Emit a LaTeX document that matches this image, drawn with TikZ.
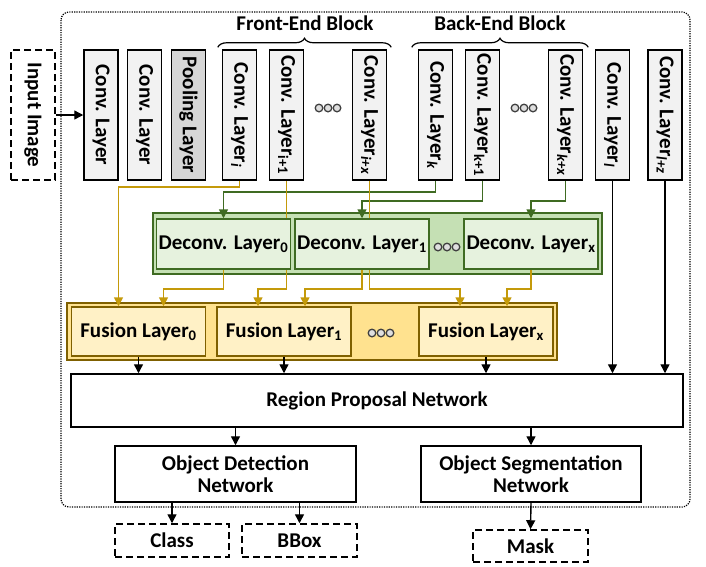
\documentclass[tikz,border=0pt]{standalone}
\usepackage{fontspec}
\setmainfont{Carlito}
\usepackage{graphicx}
\usetikzlibrary{arrows.meta,decorations.pathreplacing}
\definecolor{darkgreen}{HTML}{3F6B22}
\definecolor{bandgreen}{HTML}{C5E0B4}
\definecolor{lightgreen}{HTML}{E6F2DE}
\definecolor{darkgold}{HTML}{7F6000}
\definecolor{bandgold}{HTML}{FFE28F}
\definecolor{lightgold}{HTML}{FFF1C6}
\definecolor{linegold}{HTML}{C49A0A}
\definecolor{boxgray}{HTML}{F2F2F2}
\definecolor{poolgray}{HTML}{D6D6D6}
\newcommand{\threedots}[2]{\foreach \k in {-9,0,9} \filldraw[fill=gray!25,draw=gray!50!black,line width=1.3pt] (#1+\k,#2) circle (3.8pt);}

\begin{document}
\begin{tikzpicture}[x=1pt,y=-1pt,
    font=\fontsize{21}{22.5}\selectfont\bfseries,
    convbox/.style={draw,line width=1.5pt,fill=boxgray,minimum width=34pt,minimum height=130pt,inner sep=0pt},
    inbox/.style={draw,line width=1.5pt,dash pattern=on 7pt off 4pt,inner sep=0pt},
    deconvbox/.style={draw=darkgreen,line width=1.5pt,fill=lightgreen,minimum width=134pt,minimum height=50pt,inner sep=0pt},
    fusionbox/.style={draw=darkgold,line width=1.5pt,fill=lightgold,minimum width=134pt,minimum height=49pt,inner sep=0pt},
    netbox/.style={draw,line width=1.5pt,fill=white,align=center,inner sep=0pt},
    goldarrow/.style={draw=linegold,line width=1.5pt,-{Triangle[length=9pt,width=9pt]}},
    goldline/.style={draw=linegold,line width=1.5pt},
    greenarrow/.style={draw=darkgreen,line width=1.5pt,-{Triangle[length=9pt,width=9pt]}},
    blackarrow/.style={draw,line width=1.4pt,-{Triangle[length=9pt,width=9pt]}}]
    \useasboundingbox (0,0) rectangle (706,566);
    % outer frame
    \draw[line width=1.2pt,dash pattern=on 1.2pt off 1.2pt,rounded corners=8pt] (61,12) rectangle (690,507);

    % input and conv layers
    \node[inbox,minimum width=44pt,minimum height=130pt] (input) at (33,115) {\rotatebox{-90}{Input Image}};
    \foreach \n/\x/\t in {c1/101/{Conv. Layer},c2/144.5/{Conv. Layer},
        ci/239.5/{Conv. Layer\textsubscript{\itshape i}},ci1/286.5/{Conv. Layer\textsubscript{i+1}},
        cix/369.5/{Conv. Layer\textsubscript{\itshape i+x}},ck/435.5/{Conv. Layer\textsubscript{\itshape k}},
        ck1/482.5/{Conv. Layer\textsubscript{k+1}},ckx/565.5/{Conv. Layer\textsubscript{\itshape k+x}},
        cl/612.5/{Conv. Layer\textsubscript{\itshape l}},clz/665/{Conv. Layer\textsubscript{\itshape l+z}}}
        \node[convbox] (\n) at (\x,115) {\rotatebox{-90}{\t}};
    \node[convbox,fill=poolgray] (pool) at (188.5,115) {\rotatebox{-90}{Pooling Layer}};
    \threedots{328}{108}
    \threedots{524}{108}

    % blocks
    \draw[decorate,decoration={brace,amplitude=9pt},line width=1.2pt] ([xshift=-4pt,yshift=2pt]ci.north west) -- ([xshift=4pt,yshift=2pt]cix.north east);
    \draw[decorate,decoration={brace,amplitude=9pt},line width=1.2pt] ([xshift=-6pt,yshift=2pt]ck.north west) -- ([xshift=5pt,yshift=2pt]ckx.north east);
    \node (frontend) at (305,23) {Front-End Block};
    \node (backend) at (500,23) {Back-End Block};

    % deconv band
    \draw[draw=darkgreen,fill=bandgreen,line width=1.2pt] (153,213) rectangle (602,274);
    \node[deconvbox] (d0) at (223.5,244) {Deconv. Layer\textsubscript{0}};
    \node[deconvbox] (d1) at (362,244) {Deconv. Layer\textsubscript{1}};
    \node[deconvbox] (dx) at (531,244) {Deconv. Layer\textsubscript{x}};
    \threedots{447}{247}

    % fusion band
    \draw[draw=darkgold,fill=bandgold,line width=1.2pt] (67,303) rectangle (557,360);
    \node[fusionbox] (f0) at (138.5,331.5) {Fusion Layer\textsubscript{0}};
    \node[fusionbox] (f1) at (284,331.5) {Fusion Layer\textsubscript{1}};
    \node[fusionbox] (fx) at (486,331.5) {Fusion Layer\textsubscript{x}};
    \threedots{381}{333}

    % networks and outputs
    \node[netbox,minimum width=612pt,minimum height=53pt] (rpn) at (377,400.5) {Region Proposal Network};
    \node[netbox,minimum width=241pt,minimum height=56pt] (odn) at (235.5,474) {Object Detection\\Network};
    \node[netbox,minimum width=220pt,minimum height=56pt] (osn) at (531,474) {Object Segmentation\\Network};
    \node[inbox,minimum width=114pt,minimum height=33pt] (class) at (172,540.5) {Class};
    \node[inbox,minimum width=115pt,minimum height=33pt] (bbox) at (299.5,540.5) {BBox};
    \node[inbox,minimum width=115pt,minimum height=32pt] (mask) at (530.5,546) {Mask};

    % connectors
    \draw[blackarrow] (input.east) -- (c1.west);
    \draw[goldarrow] (ci.south) -- ++(0,6) -| ([xshift=-20pt]f0.north);
    \draw[greenarrow] (ck.south) -- ++(0,11) -| (d0.north);
    \draw[greenarrow] (ck1.south) -- ++(0,20) -| (d1.north);
    \draw[greenarrow] (ckx.south) -- ++(0,20) -| (dx.north);
    \draw[goldline] (ci1.south) -- (ci1.south |- d0.north);
    \draw[goldline] (cix.south) -- (cix.south |- d1.north);
    \draw[goldarrow] (d0.south) -- ++(0,19) -| ([xshift=25pt]f0.north);
    \draw[goldarrow] (ci1.south |- d0.south) -- ++(0,19) -| ([xshift=-26pt]f1.north);
    \draw[goldarrow] (d1.south) -- ++(0,19) -| ([xshift=21pt]f1.north);
    \draw[goldarrow] (cix.south |- d1.south) -- ++(0,19) -| ([xshift=-26pt]fx.north);
    \draw[goldarrow] (dx.south) -- ++(0,19) -| ([xshift=21pt]fx.north);
    \foreach \n in {f0,f1,fx,cl,clz}
        \draw[blackarrow] (\n.south) -- (\n.south |- rpn.north);
    \draw[blackarrow] (odn.north |- rpn.south) -- (odn.north);
    \draw[blackarrow] (osn.north |- rpn.south) -- (osn.north);
    \draw[blackarrow] (class.north |- odn.south) -- (class.north);
    \draw[blackarrow] (bbox.north |- odn.south) -- (bbox.north);
    \draw[blackarrow] (osn.south) -- (mask.north);
\end{tikzpicture}
\end{document}
